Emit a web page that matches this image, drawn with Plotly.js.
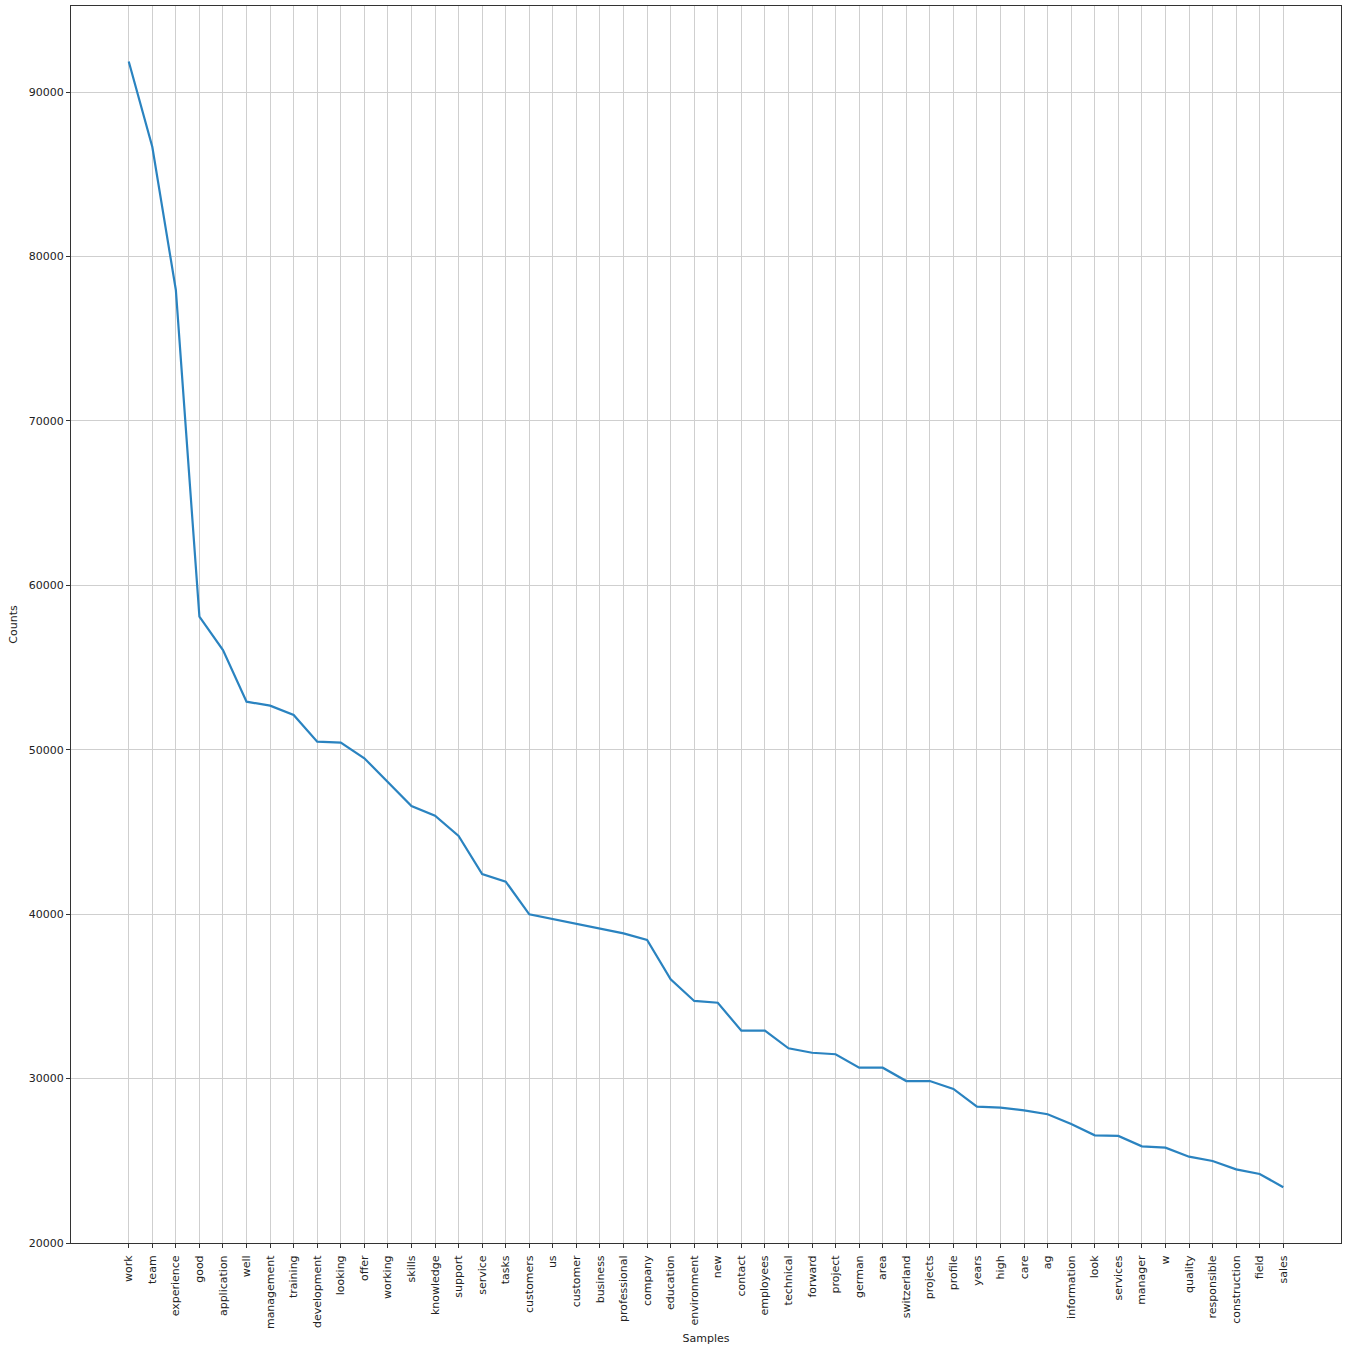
<!DOCTYPE html>
<html>
<head>
<meta charset="utf-8">
<script src="https://cdn.plot.ly/plotly-3.0.1.min.js"></script>
<style>body{margin:0;padding:0;background:#fff;}#chart{width:1346px;height:1348px;}</style>
</head>
<body>
<div id="chart"></div>
<script>
const samples = ["work","team","experience","good","application","well","management","training","development","looking","offer","working","skills","knowledge","support","service","tasks","customers","us","customer","business","professional","company","education","environment","new","contact","employees","technical","forward","project","german","area","switzerland","projects","profile","years","high","care","ag","information","look","services","manager","w","quality","responsible","construction","field","sales"];
const counts = [91850,86670,77960,58090,56060,52920,52680,52110,50490,50430,49480,48060,46580,45990,44750,42440,41980,39990,39700,39400,39140,38830,38430,36040,34720,34610,32910,32910,31840,31570,31480,30660,30660,29850,29850,29370,28290,28230,28070,27830,27240,26550,26510,25880,25800,25250,24990,24480,24200,23390];
const yTicks = [20000,30000,40000,50000,60000,70000,80000,90000];

const font = {family: "DejaVu Sans, sans-serif", size: 11, color: "#222"};
const trace = {
  x: samples, y: counts, type: "scatter", mode: "lines",
  line: {color: "#2a83c0", width: 2.2}, hoverinfo: "x+y"
};
const layout = {
  width: 1346, height: 1348,
  margin: {l: 71, r: 5, t: 6, b: 105},
  paper_bgcolor: "#fff", plot_bgcolor: "#fff",
  showlegend: false,
  font: font,
  xaxis: {
    type: "category", range: [-2.45, 51.45],
    tickangle: -90, ticks: "outside", ticklen: 4, tickcolor: "#333",
    ticklabelstandoff: 3,
    showgrid: true, gridcolor: "#cfcfcf", gridwidth: 1,
    showline: true, linecolor: "#333", linewidth: 1, mirror: true,
    tickfont: font, zeroline: false,
    title: {text: "Samples", font: font, standoff: 6}
  },
  yaxis: {
    range: [20000, 95230], tickvals: yTicks, ticktext: yTicks.map(String),
    ticks: "outside", ticklen: 4, tickcolor: "#333",
    showgrid: true, gridcolor: "#cfcfcf", gridwidth: 1,
    showline: true, linecolor: "#333", linewidth: 1, mirror: true,
    tickfont: font, zeroline: false,
    title: {text: "Counts", font: font, standoff: 8}
  }
};
Plotly.newPlot("chart", [trace], layout, {displayModeBar: false, staticPlot: true});
</script>
</body>
</html>
